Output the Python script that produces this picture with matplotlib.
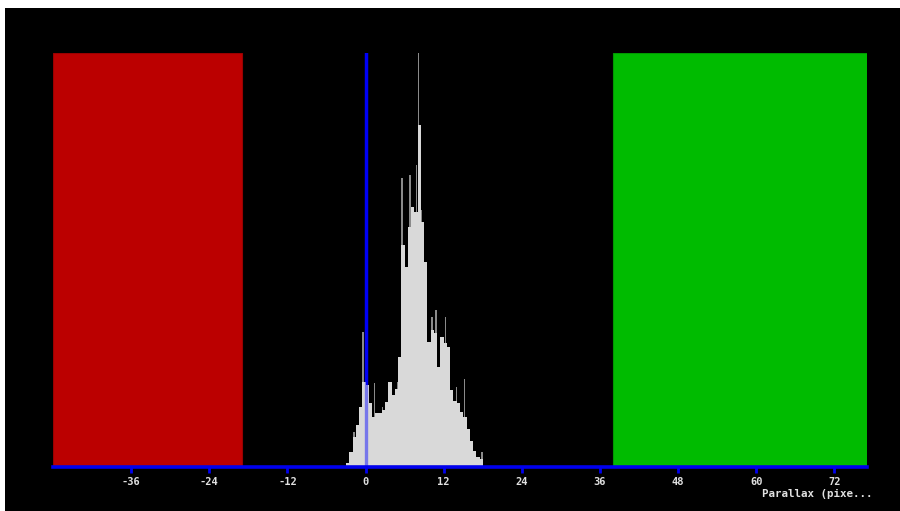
import numpy as np
import matplotlib
matplotlib.use("Agg")
import matplotlib.pyplot as plt
from matplotlib.patches import Rectangle

# histogram of parallax values (bin left edges, 0.5 px wide)
bin_left = np.arange(-3.0, 18.0, 0.5)
counts = [4, 15, 30, 42, 60, 85, 82, 64, 50, 54, 54, 57, 65, 85, 72, 78,
          110, 222, 200, 240, 260, 255, 342, 245, 205, 125, 137, 134, 100, 130,
          124, 120, 77, 66, 64, 55, 50, 38, 26, 16, 10, 8]

# narrow single-bin spikes
spike_x = [-1.8, -0.4, 1.4, 2.6, 5.0, 5.6, 6.8, 7.8, 8.1, 8.6, 10.2, 10.8,
           12.3, 14.0, 15.2, 17.9]
spike_h = [35, 135, 84, 60, 85, 289, 292, 302, 414, 257, 150, 157,
           150, 80, 88, 15]

# out-of-range zones
near_zone = (-48, -19)
far_zone = (38, 77)

tick_vals = [-36, -24, -12, 0, 12, 24, 36, 48, 60, 72]
x_label = "Parallax (pixe..."

fig = plt.figure(figsize=(9, 5.11), dpi=100)
fig.patch.set_facecolor("white")
fig.add_artist(Rectangle((5 / 900, 0), 1, 1 - 8 / 511, transform=fig.transFigure,
                         facecolor="black", edgecolor="none", zorder=0))

ax = fig.add_axes([53 / 900, 44 / 511, 814 / 900, 414 / 511])
ax.set_facecolor("black")
ax.patch.set_alpha(0)

ymax = 414
ax.set_xlim(-48, 77)
ax.set_ylim(0, ymax)

ax.axvspan(near_zone[0], near_zone[1], facecolor="#bb0000", edgecolor="#990000",
           lw=0.8, zorder=1)
ax.axvspan(far_zone[0], far_zone[1], facecolor="#00bb00", edgecolor="#009900",
           lw=0.8, zorder=1)

ax.axvline(0, color="#0000ee", lw=2.4, zorder=2)

ax.bar(spike_x, spike_h, width=0.2, color="#8a8a8a", zorder=3)
ax.bar(bin_left, counts, width=0.5, align="edge", color="#d9d9d9",
       edgecolor="none", zorder=4)

# the zero line shows through the histogram
ax.axvline(0, color="#0000ff", lw=2.4, alpha=0.45, zorder=5)

for s in ["top", "left", "right"]:
    ax.spines[s].set_visible(False)
ax.spines["bottom"].set_color("#0000ee")
ax.spines["bottom"].set_linewidth(2.6)
ax.spines["bottom"].set_zorder(6)

ax.set_yticks([])
ax.set_xticks(tick_vals)
ax.set_xticklabels([str(v) for v in tick_vals])
ax.tick_params(axis="x", colors="#0000ee", length=4, width=2, pad=3,
               labelcolor="#e0e0e0", labelsize=7.5)
for lab in ax.get_xticklabels():
    lab.set_family("DejaVu Sans Mono")
    lab.set_fontweight("bold")

fig.text(873 / 900, 1 - 494 / 511, x_label, ha="right", va="center",
         color="#e0e0e0", fontsize=7.8, family="DejaVu Sans Mono",
         fontweight="bold")

fig.savefig("out.png", dpi=100, facecolor=fig.get_facecolor())
